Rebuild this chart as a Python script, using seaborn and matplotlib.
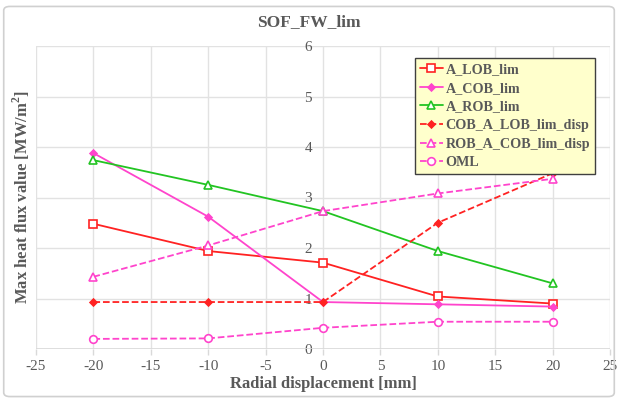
import matplotlib
matplotlib.use("Agg")
import matplotlib.pyplot as plt
import seaborn as sns
import pandas as pd
from matplotlib.patches import FancyBboxPatch

x = [-20, -10, 0, 10, 20]
a_lob = [2.48, 1.94, 1.71, 1.04, 0.90]
a_cob = [3.88, 2.62, 0.93, 0.885, 0.84]
a_rob = [3.74, 3.25, 2.73, 1.94, 1.30]
cob_a_lob_disp = [0.93, 0.93, 0.93, 2.50, 3.48]
rob_a_cob_disp = [1.43, 2.05, 2.73, 3.08, 3.37]
oml = [0.20, 0.21, 0.42, 0.54, 0.54]
names = ["A_LOB_lim", "A_COB_lim", "A_ROB_lim",
         "COB_A_LOB_lim_disp", "ROB_A_COB_lim_disp", "OML"]
series = [a_lob, a_cob, a_rob, cob_a_lob_disp, rob_a_cob_disp, oml]

RED = "#FF2222"
MAG = "#FF44CC"
GRN = "#22C422"
styles = [
    dict(color=RED, marker="s", ls="-", mfc="white", ms=5.5),
    dict(color=MAG, marker="D", ls="-", mfc=MAG, ms=3.5),
    dict(color=GRN, marker="^", ls="-", mfc="white", ms=5.5),
    dict(color=RED, marker="D", ls="--", mfc=RED, ms=3.5),
    dict(color=MAG, marker="^", ls="--", mfc="white", ms=5.5),
    dict(color=MAG, marker="o", ls="--", mfc="white", ms=5.5),
]

sns.set_style("white")
plt.rcParams["font.family"] = ["Liberation Serif", "DejaVu Serif"]
plt.rcParams["axes.unicode_minus"] = False

fig = plt.figure(figsize=(6.18, 4.03), dpi=100)
ax = fig.add_axes([36/618, 1-349/403, (610-36)/618, (349-46)/403])

for name, vals, st in zip(names, series, styles):
    df = pd.DataFrame({"x": x, "y": vals})
    sns.lineplot(data=df, x="x", y="y", ax=ax, color=st["color"],
                 marker=st["marker"], linestyle=st["ls"], markersize=st["ms"],
                 markerfacecolor=st["mfc"], markeredgecolor=st["color"],
                 markeredgewidth=1.2, linewidth=1.3, label=name)

ax.set_xlim(-25, 25)
ax.set_ylim(0, 6)
ax.set_xticks(range(-25, 26, 5))
ax.set_yticks(range(0, 7))
ax.grid(True, color="#E2E2E2", linewidth=1.0)
for s in ["top", "right", "bottom"]:
    ax.spines[s].set_visible(False)
ax.spines["left"].set_position(("data", 0))
ax.spines["left"].set_visible(False)
ax.tick_params(axis="y", length=0, pad=8, labelsize=11, labelcolor="#595959")
ax.tick_params(axis="x", length=4, color="#D9D9D9", width=1, direction="out",
               pad=4, labelsize=11, labelcolor="#595959", bottom=True)
ax.axhline(0, color="#D9D9D9", lw=1.2, zorder=1)

ax.set_xlabel("Radial displacement [mm]", fontsize=12, fontweight="bold",
              color="#595959", labelpad=2)
fig.text(0.035, 1-197/403, "Max heat flux value [MW/m$^\\mathregular{2}$]",
         rotation=90, ha="center", va="center", fontsize=12,
         fontweight="bold", color="#595959")
ax.set_ylabel("")
fig.text(0.5, 1-22/403, "SOF_FW_lim", ha="center", va="center",
         fontsize=12.5, fontweight="bold", color="#595959")

leg = ax.legend(loc="upper left", bbox_to_anchor=((415-36)/574, 1-(58-46)/303),
                frameon=True, fancybox=False, handlelength=1.6,
                handletextpad=0.2, borderpad=0.35, labelspacing=0.4,
                prop={"family": "Liberation Serif", "weight": "bold", "size": 10.2},
                borderaxespad=0)
leg.get_frame().set_facecolor("#FFFFCC")
leg.get_frame().set_edgecolor("#404040")
leg.get_frame().set_linewidth(1.0)
leg.get_frame().set_alpha(1)
for t in leg.get_texts():
    t.set_color("#595959")

border = FancyBboxPatch((0.006, 0.016), 0.988, 0.968,
                        boxstyle="round,pad=0,rounding_size=0.01",
                        transform=fig.transFigure, fill=False,
                        edgecolor="#D0D0D0", linewidth=1.2)
fig.patches.append(border)

fig.savefig("out.png", dpi=100)
